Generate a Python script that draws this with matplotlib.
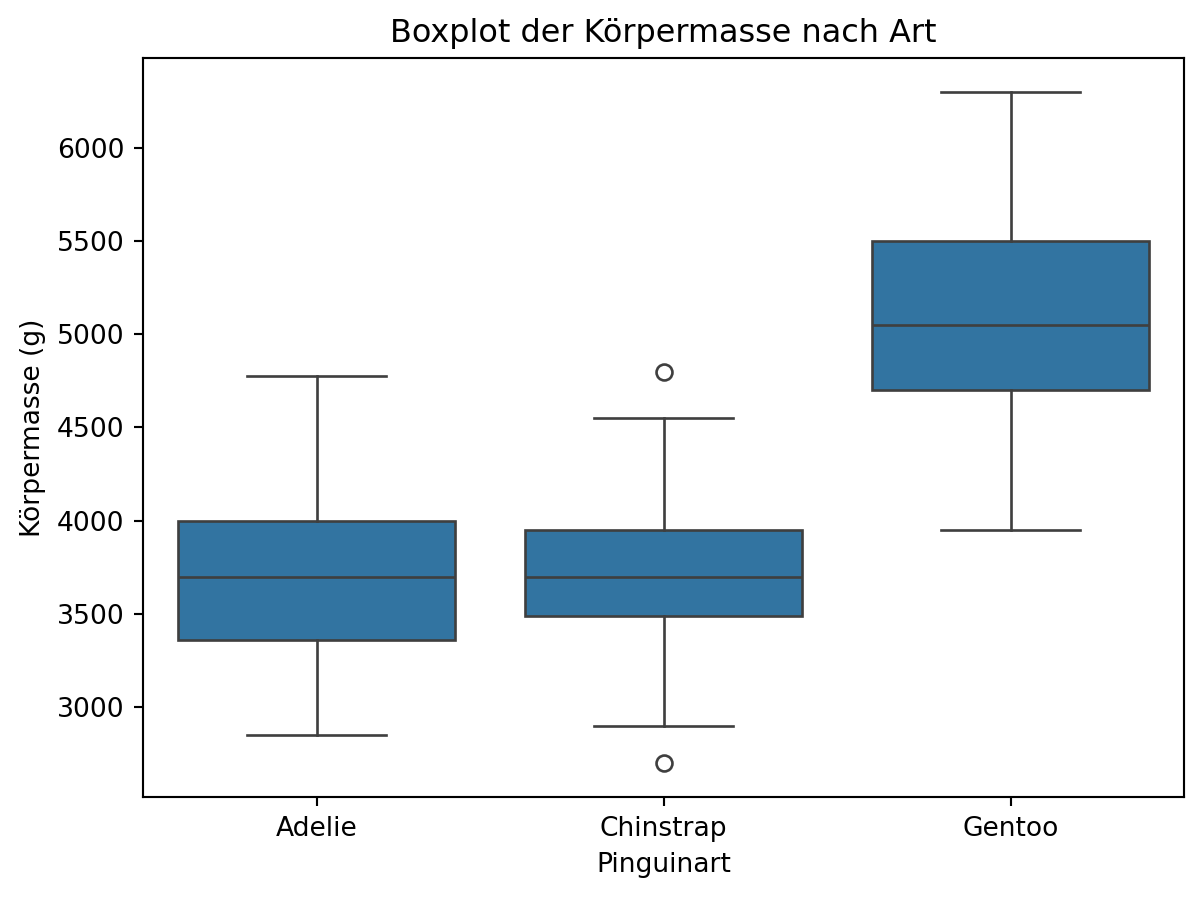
import matplotlib
matplotlib.use("Agg")
import matplotlib.pyplot as plt

# Werte
arten = ["Adelie", "Chinstrap", "Gentoo"]
whis_lo = [2850, 2900, 3950]
q1 = [3362, 3487.5, 4700]
median = [3700, 3700, 5050]
q3 = [4000, 3950, 5500]
whis_hi = [4775, 4550, 6300]
ausreisser = [[], [4800, 2700], []]

box_farbe = "#3274a1"
linien_farbe = "#3f3f3f"

stats = []
for i, art in enumerate(arten):
    stats.append(dict(label=art, whislo=whis_lo[i], q1=q1[i], med=median[i],
                      q3=q3[i], whishi=whis_hi[i], fliers=ausreisser[i]))

dpi = 191
fig, ax = plt.subplots(figsize=(1203 / dpi, 898 / dpi), dpi=dpi)

line_kw = dict(color=linien_farbe, linewidth=1.0)
ax.bxp(stats, positions=range(len(arten)), widths=0.8, capwidths=0.4,
       patch_artist=True,
       boxprops=dict(facecolor=box_farbe, edgecolor=linien_farbe, linewidth=1.0),
       medianprops=line_kw, whiskerprops=line_kw, capprops=line_kw,
       flierprops=dict(marker="o", markerfacecolor="none",
                       markeredgecolor=linien_farbe, markersize=6,
                       markeredgewidth=1.0))

ax.set_xlim(-0.5, 2.5)
ax.set_title("Boxplot der Körpermasse nach Art")
ax.set_xlabel("Pinguinart")
ax.set_ylabel("Körpermasse (g)")

fig.subplots_adjust(left=143 / 1203, right=1184 / 1203,
                    top=1 - 58 / 898, bottom=1 - 797 / 898)
plt.savefig("out.png", dpi=dpi)
